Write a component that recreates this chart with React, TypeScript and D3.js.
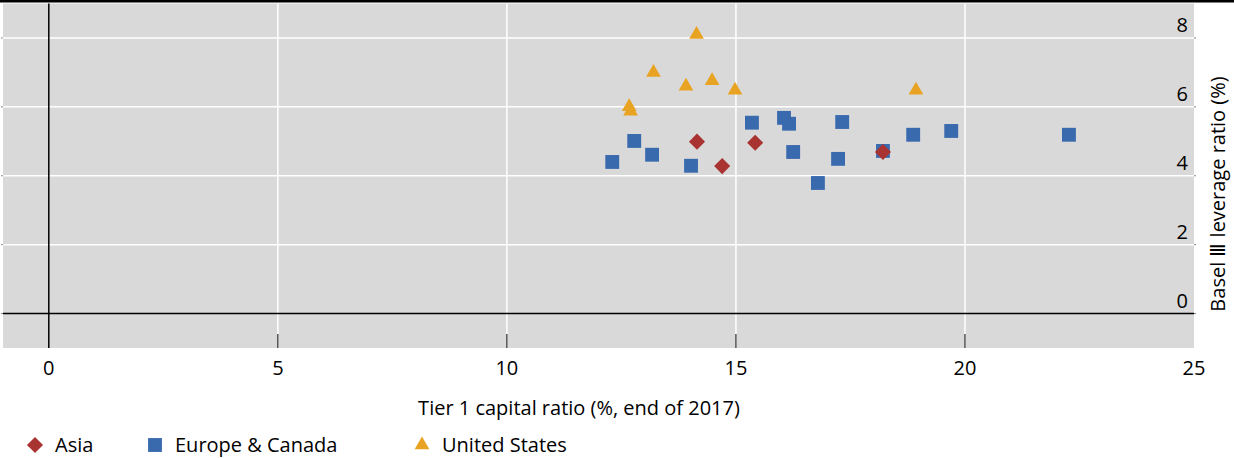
import React from 'react';
import * as d3 from 'd3';

const asiaX = [14.15, 14.7, 15.42, 18.21];
const asiaY = [4.99, 4.28, 4.96, 4.69];

const europeX = [12.3, 12.78, 13.17, 14.02, 15.35, 16.05, 16.16, 16.25, 16.79, 17.23, 17.32, 18.21, 18.87, 19.7, 22.27];
const europeY = [4.4, 5.01, 4.61, 4.29, 5.54, 5.68, 5.51, 4.69, 3.79, 4.49, 5.56, 4.72, 5.19, 5.3, 5.19];

const usX = [14.14, 13.2, 13.91, 14.48, 14.98, 18.93, 12.67, 12.7];
const usY = [8.1, 7.0, 6.6, 6.76, 6.48, 6.48, 6.0, 5.87];

const xTicks = [0, 5, 10, 15, 20, 25];
const yTicks = [0, 2, 4, 6, 8];

const seriesNames = ['Asia', 'Europe & Canada', 'United States'];
const colors = ['#a93331', '#3a6aae', '#e9a322'];

const W = 1234;
const H = 458;
const plot = { left: 3, right: 1194, top: 3.5, bottom: 348 };
const font = '"Open Sans", "Noto Sans", sans-serif';
const fs = 20;

const x = d3.scaleLinear().domain([-1, 25]).range([plot.left, plot.right]);
const y = d3.scaleLinear().domain([-1, 9]).range([plot.bottom, plot.top]);

const diamond = d3.symbol().type(d3.symbolDiamond2).size(165)()!;
const square = d3.symbol().type(d3.symbolSquare2).size(245)()!;
const triangle = d3.symbol().type(d3.symbolTriangle2).size(155)()!;
const shapes = [diamond, square, triangle];

const series = [
  { xs: asiaX, ys: asiaY },
  { xs: europeX, ys: europeY },
  { xs: usX, ys: usY },
];

export default function App() {
  // draw order: US, Europe, Asia on top
  const order = [2, 1, 0];
  const legendX = [35, 155, 422];
  return (
    <div style={{ position: 'fixed', left: 0, top: 0 }}>
      <svg width={W} height={H} style={{ display: 'block' }} fontFamily={font}>
        <rect x={0} y={0} width={W} height={H} fill="#fff" />
        <rect x={0} y={0} width={W} height={2.5} fill="#000" />
        <rect
          x={plot.left}
          y={plot.top}
          width={plot.right - plot.left}
          height={plot.bottom - plot.top}
          fill="#d9d9d9"
        />
        {/* gridlines */}
        {yTicks.filter(t => t !== 0).map(t => (
          <line key={'gy' + t} x1={plot.left} x2={plot.right} y1={y(t)} y2={y(t)} stroke="#fff" strokeWidth={1.5} />
        ))}
        {xTicks.filter(t => t !== 0 && t !== 25).map(t => (
          <line key={'gx' + t} x1={x(t)} x2={x(t)} y1={plot.top} y2={plot.bottom} stroke="#fff" strokeWidth={1.5} />
        ))}
        {/* edge ticks */}
        {yTicks.map((t, i) => (
          <g key={'et' + i}>
            <line x1={plot.left - 2} x2={plot.left} y1={y(t)} y2={y(t)} stroke="#888" />
            <line x1={plot.right} x2={plot.right + 2} y1={y(t)} y2={y(t)} stroke="#888" />
          </g>
        ))}
        {/* zero lines */}
        <line x1={plot.left} x2={plot.right} y1={y(0)} y2={y(0)} stroke="#000" strokeWidth={1.5} />
        <line x1={x(0)} x2={x(0)} y1={plot.top} y2={plot.bottom} stroke="#000" strokeWidth={1.5} />
        {/* x ticks */}
        {xTicks.filter(t => t !== 0 && t !== 25).map(t => (
          <line key={'xt' + t} x1={x(t)} x2={x(t)} y1={plot.bottom - 14} y2={plot.bottom} stroke="#000" strokeWidth={1} />
        ))}
        {/* points */}
        {order.map(si => (
          <g key={'s' + si} fill={colors[si]}>
            {series[si].xs.map((v, j) => (
              <path key={j} d={shapes[si]} transform={`translate(${x(v)},${y(series[si].ys[j])})`} />
            ))}
          </g>
        ))}
        {/* y tick labels */}
        {yTicks.map(t => (
          <text key={'yl' + t} x={plot.right - 6} y={y(t) - 6} textAnchor="end" fontSize={fs} fill="#000">
            {t}
          </text>
        ))}
        {/* x tick labels */}
        {xTicks.map(t => (
          <text key={'xl' + t} x={x(t)} y={375} textAnchor="middle" fontSize={fs} fill="#000">
            {t}
          </text>
        ))}
        <text x={579} y={415} textAnchor="middle" fontSize={fs} fill="#000">
          Tier 1 capital ratio (%, end of 2017)
        </text>
        <text
          transform={`translate(${1225},${194}) rotate(-90)`}
          textAnchor="middle"
          fontSize={fs}
          fill="#000"
        >
          Basel Ⅲ leverage ratio (%)
        </text>
        {/* legend */}
        {seriesNames.map((name, i) => (
          <g key={'lg' + i}>
            <path d={shapes[i]} transform={`translate(${legendX[i]},445)`} fill={colors[i]} />
            <text x={legendX[i] + 20} y={452} fontSize={fs} fill="#000">
              {name}
            </text>
          </g>
        ))}
      </svg>
    </div>
  );
}
